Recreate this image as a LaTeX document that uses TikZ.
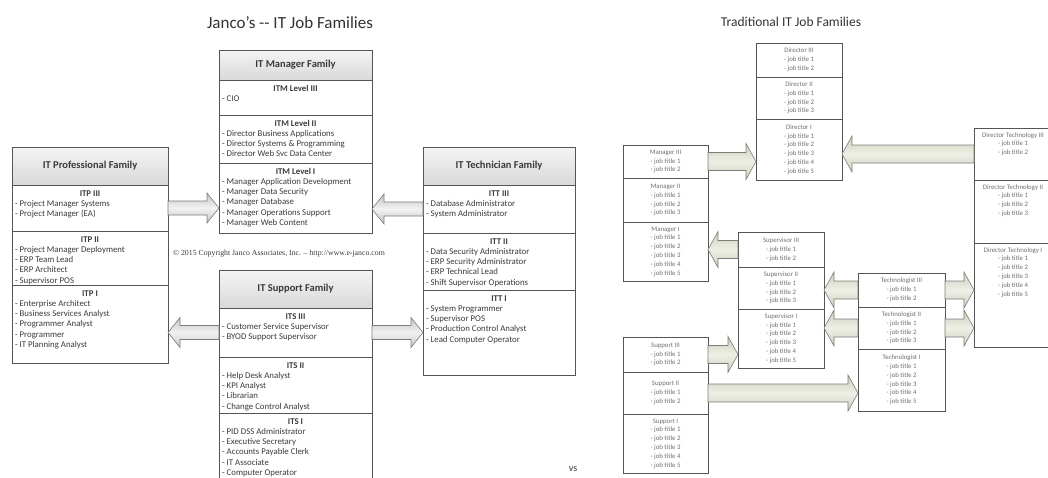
\documentclass[tikz,border=0pt]{standalone}
\usepackage{fontspec}
\setmainfont{Carlito}
\newfontfamily\copyfont{Liberation Serif}
\usetikzlibrary{positioning,calc}

\definecolor{boxline}{HTML}{555555}
\definecolor{lefttext}{HTML}{3A3A3A}
\definecolor{righttext}{HTML}{6E6E6E}
\definecolor{headtop}{HTML}{F4F4F4}
\definecolor{headbot}{HTML}{D9D9D9}
\definecolor{arrowedge}{HTML}{7C7C7C}
\definecolor{arrowfillL}{HTML}{C4C4C4}
\definecolor{arrowmidL}{HTML}{F2F2F2}
\definecolor{arrowfillR}{HTML}{CBCFB9}
\definecolor{arrowmidR}{HTML}{EEF0E6}

% level heading and cell bodies
\newcommand\lvl[1]{\centerline{\rule{0pt}{11pt}\bfseries #1}}
\newcommand\lcell[3]{\parbox[t][#2][t]{#1}{\raggedright\leftskip=3pt\relax #3}}
\newcommand\tcell[3]{\parbox[t][#2][t]{#1}{\centering\rule{0pt}{9pt}#3}}

\tikzset{
  famhead/.style={draw=boxline, line width=1pt, outer sep=0pt, inner sep=0pt,
    top color=headtop, bottom color=headbot, text=lefttext,
    font=\fontsize{10.5}{12}\selectfont\bfseries},
  lcellbox/.style={draw=boxline, line width=1pt, outer sep=0pt, inner sep=0pt,
    text=lefttext, font=\fontsize{8.8}{10.3}\selectfont},
  rcell/.style={draw=boxline, line width=0.7pt, outer sep=0pt, inner sep=0pt,
    align=center, text=righttext, font=\fontsize{6.8}{8.8}\selectfont},
  fat/.style n args={3}{to path={
    let \p1=(\tikztostart), \p2=(\tikztotarget),
        \p3=($(\tikztotarget)!#3!(\tikztostart)$) in
    (\x1,\y1+#1) -- (\x3,\y1+#1) -- (\x3,\y1+#2) -- (\x2,\y1)
    -- (\x3,\y1-#2) -- (\x3,\y1-#1) -- (\x1,\y1-#1) -- cycle}},
  fatL/.style={fat={7pt}{15pt}{12pt}, draw=arrowedge, line width=0.6pt,
    top color=arrowfillL, bottom color=arrowfillL, middle color=arrowmidL},
  fatR/.style={fat={9pt}{18pt}{10pt}, draw=arrowedge, line width=0.6pt,
    top color=arrowfillR, bottom color=arrowfillR, middle color=arrowmidR},
}

\begin{document}
\begin{tikzpicture}[x=1pt,y=-1pt]
\useasboundingbox (0,0) rectangle (1048,477);

% titles
\node[font=\fontsize{17}{20}\selectfont, text=black!80] (jtitle) at (290,23) {Janco's -{}- IT Job Families};
\node[font=\fontsize{13.5}{16}\selectfont, text=black!80] (ttitle) at (791,22) {Traditional IT Job Families};
\node[font=\fontsize{10}{12}\selectfont, text=black!80] (vs) at (573,469) {vs};

% IT Professional Family
\node[famhead, minimum width=156pt, minimum height=38pt, anchor=north west] (prof) at (12,147) {IT Professional Family};
\node[lcellbox, below=0pt of prof] (itp3) {\lcell{156pt}{46pt}{\lvl{ITP III}- Project Manager Systems\\- Project Manager (EA)}};
\node[lcellbox, below=0pt of itp3] (itp2) {\lcell{156pt}{54pt}{\lvl{ITP II}- Project Manager Deployment\\- ERP Team Lead\\- ERP Architect\\- Supervisor POS}};
\node[lcellbox, below=0pt of itp2] (itp1) {\lcell{156pt}{78pt}{\lvl{ITP I}- Enterprise Architect\\- Business Services Analyst\\- Programmer Analyst\\- Programmer\\- IT Planning Analyst}};

% IT Manager Family
\node[famhead, minimum width=153pt, minimum height=30pt, anchor=north west] (mgr) at (219,50) {IT Manager Family};
\node[lcellbox, below=0pt of mgr] (itm3) {\lcell{153pt}{35pt}{\lvl{ITM Level III}- CIO}};
\node[lcellbox, below=0pt of itm3] (itm2) {\lcell{153pt}{48pt}{\lvl{ITM Level II}- Director Business Applications\\- Director Systems \& Programming\\- Director Web Svc Data Center}};
\node[lcellbox, below=0pt of itm2] (itm1) {\lcell{153pt}{70pt}{\lvl{ITM Level I}- Manager Application Development\\- Manager Data Security\\- Manager Database\\- Manager Operations Support\\- Manager Web Content}};

\node[font=\copyfont\fontsize{7.8}{9}\selectfont, text=lefttext] (copy) at (279,254) {© 2015 Copyright Janco Associates, Inc. – http://www.e-janco.com};

% IT Technician Family
\node[famhead, minimum width=152pt, minimum height=38pt, anchor=north west] (tech) at (423,147) {IT Technician Family};
\node[lcellbox, below=0pt of tech] (itt3) {\lcell{152pt}{48pt}{\lvl{ITT III}- Database Administrator\\- System Administrator}};
\node[lcellbox, below=0pt of itt3] (itt2) {\lcell{152pt}{57pt}{\lvl{ITT II}- Data Security Administrator\\- ERP Security Administrator\\- ERP Technical Lead\\- Shift Supervisor Operations}};
\node[lcellbox, below=0pt of itt2] (itt1) {\lcell{152pt}{85pt}{\lvl{ITT I}- System Programmer\\- Supervisor POS\\- Production Control Analyst\\- Lead Computer Operator}};

% IT Support Family
\node[famhead, minimum width=153pt, minimum height=38pt, anchor=north west] (supp) at (219,270) {IT Support Family};
\node[lcellbox, below=0pt of supp] (its3) {\lcell{153pt}{49pt}{\lvl{ITS III}- Customer Service Supervisor\\- BYOD Support Supervisor}};
\node[lcellbox, below=0pt of its3] (its2) {\lcell{153pt}{56pt}{\lvl{ITS II}- Help Desk Analyst\\- KPI Analyst\\- Librarian\\- Change Control Analyst}};
\node[lcellbox, below=0pt of its2] (its1) {\lcell{153pt}{66pt}{\lvl{ITS I}- PID DSS Administrator\\- Executive Secretary\\- Accounts Payable Clerk\\- IT Associate\\- Computer Operator}};

% Janco arrows
\draw[fatL] (itp3.east) to (itp3.east -| itm1.west);
\draw[fatL] (itt3.west) to (itt3.west -| itm1.east);
\draw[fatL] (its3.west) to (its3.west -| itp1.east);
\draw[fatL] (its3.east) to (its3.east -| itt1.west);

% Director
\node[rcell, minimum width=86pt, minimum height=34pt, anchor=north west] (dir3) at (756,43) {Director III\\- job title 1\\- job title 2};
\node[rcell, minimum width=86pt, minimum height=42pt, below=0pt of dir3] (dir2) {Director II\\- job title 1\\- job title 2\\- job title 3};
\node[rcell, minimum width=86pt, minimum height=61pt, below=0pt of dir2] (dir1) {Director I\\- job title 1\\- job title 2\\- job title 3\\- job title 4\\- job title 5};

% Manager
\node[rcell, minimum width=85pt, minimum height=33pt, anchor=north west] (man3) at (623,145) {Manager III\\- job title 1\\- job title 2};
\node[rcell, minimum width=85pt, minimum height=44pt, below=0pt of man3] (man2) {Manager II\\- job title 1\\- job title 2\\- job title 3};
\node[rcell, minimum width=85pt, minimum height=59pt, below=0pt of man2] (man1) {Manager I\\- job title 1\\- job title 2\\- job title 3\\- job title 4\\- job title 5};

% Supervisor
\node[rcell, minimum width=86pt, minimum height=35pt, anchor=north west] (sup3) at (738,232) {Supervisor III\\- job title 1\\- job title 2};
\node[rcell, minimum width=86pt, minimum height=42pt, below=0pt of sup3] (sup2) {Supervisor II\\- job title 1\\- job title 2\\- job title 3};
\node[rcell, minimum width=86pt, minimum height=59pt, below=0pt of sup2] (sup1) {Supervisor I\\- job title 1\\- job title 2\\- job title 3\\- job title 4\\- job title 5};

% Technologist
\node[rcell, minimum width=87pt, minimum height=34pt, anchor=north west] (tec3) at (858,273) {Technologist III\\- job title 1\\- job title 2};
\node[rcell, minimum width=87pt, minimum height=42pt, below=0pt of tec3] (tec2) {Technologist II\\- job title 1\\- job title 2\\- job title 3};
\node[rcell, minimum width=87pt, minimum height=62pt, below=0pt of tec2] (tec1) {Technologist I\\- job title 1\\- job title 2\\- job title 3\\- job title 4\\- job title 5};

% Support
\node[rcell, minimum width=85pt, minimum height=35pt, anchor=north west] (spt3) at (623,337) {Support III\\- job title 1\\- job title 2};
\node[rcell, minimum width=85pt, minimum height=42pt, below=0pt of spt3] (spt2) {Support II\\- job title 1\\- job title 2};
\node[rcell, minimum width=85pt, minimum height=59pt, below=0pt of spt2] (spt1) {Support I\\- job title 1\\- job title 2\\- job title 3\\- job title 4\\- job title 5};

% Director Technology
\node[rcell, anchor=north west] (dt3) at (974,128) {\tcell{78pt}{52pt}{Director Technology III\\- job title 1\\- job title 2}};
\node[rcell, below=0pt of dt3] (dt2) {\tcell{78pt}{63pt}{Director Technology II\\- job title 1\\- job title 2\\- job title 3}};
\node[rcell, below=0pt of dt2] (dt1) {\tcell{78pt}{104pt}{Director Technology I\\- job title 1\\- job title 2\\- job title 3\\- job title 4\\- job title 5}};

% traditional arrows
\draw[fatR] (man3.east) to (man3.east -| dir1.west);
\draw[fatR] (dt3.west) to (dt3.west -| dir1.east);
\draw[fatR] (sup3.west) to (sup3.west -| man1.east);
\draw[fatR] (tec3.west) to (tec3.west -| sup2.east);
\draw[fatR] (tec2.west) to (tec2.west -| sup1.east);
\draw[fatR] (tec3.east) to (tec3.east -| dt1.west);
\draw[fatR] (tec2.east) to (tec2.east -| dt1.west);
\draw[fatR] (spt3.east) to (spt3.east -| sup1.west);
\draw[fatR] (spt2.east) to (spt2.east -| tec1.west);
\end{tikzpicture}
\end{document}
